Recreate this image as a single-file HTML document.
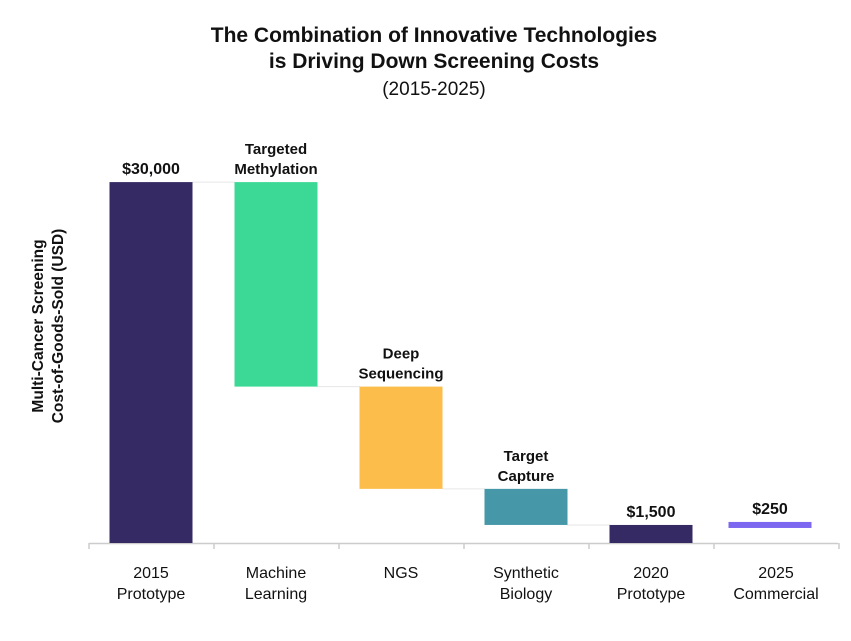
<!DOCTYPE html>
<html><head><meta charset="utf-8"><style>
body{margin:0;background:#fff;}
svg text{font-family:"Liberation Sans",sans-serif;}
</style></head><body>
<svg width="851" height="636">
<text x="434" y="42" text-anchor="middle" font-size="21" font-weight="bold" fill="#111">The Combination of Innovative Technologies</text>
<text x="434" y="68" text-anchor="middle" font-size="21" font-weight="bold" fill="#111">is Driving Down Screening Costs</text>
<text x="434" y="95" text-anchor="middle" font-size="19" fill="#111">(2015-2025)</text>
<text transform="translate(43,326) rotate(-90)" text-anchor="middle" font-size="15.5" font-weight="bold" fill="#111">Multi-Cancer Screening</text>
<text transform="translate(63,326) rotate(-90)" text-anchor="middle" font-size="15.5" font-weight="bold" fill="#111">Cost-of-Goods-Sold (USD)</text>
<g id="plot"></g>
</svg>
<script>
const categories=[["2015","Prototype"],["Machine","Learning"],["NGS"],["Synthetic","Biology"],["2020","Prototype"],["2025","Commercial"]];
const barStarts=[0,30000,13000,4500,0,1250];
const barEnds=[30000,13000,4500,1500,1500,1750];
const barLabels=[["$30,000"],["Targeted","Methylation"],["Deep","Sequencing"],["Target","Capture"],["$1,500"],["$250"]];
const colors=["#352a63","#3bd995","#fcbd4a","#4698a9","#352a63","#7b67f0"];
const NS="http://www.w3.org/2000/svg";
const g=document.getElementById('plot');
const y=v=>543-v*0.01203;
const xc=i=>151+i*125-(i===5?6:0);
function mk(t,a){const e=document.createElementNS(NS,t);for(const k in a)e.setAttribute(k,a[k]);g.appendChild(e);return e;}
const ax=mk('line',{x1:89,x2:838,y1:543.5,y2:543.5,stroke:'#ccc','stroke-width':1.5});


for(let k=0;k<=6;k++){const t=mk('line',{x1:89+k*125,x2:89+k*125,y1:543,y2:549,stroke:'#ccc','stroke-width':1.5});

}
categories.forEach((c,i)=>{
 const top=Math.max(barStarts[i],barEnds[i]),bot=Math.min(barStarts[i],barEnds[i]);
 if(i<4){const c2=mk('line',{x1:xc(i)+41,x2:xc(i+1)-41,y1:y(barEnds[i]),y2:y(barEnds[i]),stroke:'#e6e6e6','stroke-width':1});
 
 }
 const r=mk('rect',{x:xc(i)-41.5,width:83,y:y(top),height:y(bot)-y(top),fill:colors[i]});
 
 
 const L=barLabels[i];
 L.forEach((s,j)=>{const t=mk('text',{x:xc(i),y:y(top)-8-(L.length-1-j)*20,'text-anchor':'middle','font-size':L.length>1?15:16,'font-weight':'bold',fill:'#111'});t.textContent=s;
 
 });
 c.forEach((s,j)=>{const t=mk('text',{x:151+i*125,y:578+j*21,'text-anchor':'middle','font-size':16,fill:'#111'});t.textContent=s;
 
 });
});
</script>
</body></html>
